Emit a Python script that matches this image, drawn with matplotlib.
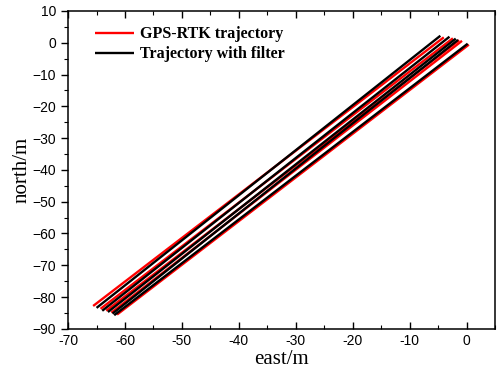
import matplotlib
matplotlib.use('Agg')
import matplotlib.pyplot as plt
from matplotlib.ticker import MultipleLocator

# lane end points (east, north), one entry per pass
gps_top_east = [-4.0, -2.4, -1.3, -0.8, 0.4]
gps_top_north = [1.7, 1.4, 0.8, 0.6, -0.6]
gps_bot_east = [-65.6, -64.3, -63.3, -62.4, -61.4]
gps_bot_north = [-82.8, -83.7, -84.3, -84.9, -85.5]

flt_top_east = [-4.6, -3.0, -1.9, -1.5, 0.2]
flt_top_north = [2.2, 1.9, 1.3, 0.9, -0.3]
flt_bot_east = [-65.0, -64.0, -63.0, -62.2, -61.9]
flt_bot_north = [-83.4, -84.3, -84.7, -85.2, -85.7]

fig = plt.figure(figsize=(4.97, 3.78), dpi=100)
ax = fig.add_axes([0.137, 0.130, 0.859, 0.841])

for i in range(len(gps_top_east)):
    ax.plot([gps_bot_east[i], gps_top_east[i]], [gps_bot_north[i], gps_top_north[i]],
            color='#ff0000', lw=1.7, solid_capstyle='butt',
            label='GPS-RTK trajectory' if i == 0 else None)
for i in range(len(flt_top_east)):
    ax.plot([flt_bot_east[i], flt_top_east[i]], [flt_bot_north[i], flt_top_north[i]],
            color='black', lw=1.7, solid_capstyle='butt',
            label='Trajectory with filter' if i == 0 else None)

ax.set_xlim(-70, 5)
ax.set_ylim(-90, 10)
ax.xaxis.set_major_locator(MultipleLocator(10))
ax.xaxis.set_minor_locator(MultipleLocator(5))
ax.yaxis.set_major_locator(MultipleLocator(10))
ax.yaxis.set_minor_locator(MultipleLocator(5))
ax.xaxis.set_major_formatter(matplotlib.ticker.FuncFormatter(lambda v, p: '%d' % v))

ax.tick_params(axis='x', which='both', direction='in', top=True, bottom=True)
ax.tick_params(axis='x', which='major', length=5, width=1)
ax.tick_params(axis='x', which='minor', length=3, width=0.8)
ax.tick_params(axis='y', which='both', direction='out', right=False)
ax.tick_params(axis='y', which='major', length=5, width=1)
ax.tick_params(axis='y', which='minor', length=3, width=0.8)
for lbl in ax.get_xticklabels() + ax.get_yticklabels():
    lbl.set_fontfamily('Liberation Sans')
    lbl.set_fontsize(10)
for s in ax.spines.values():
    s.set_linewidth(1.1)

ax.set_xlabel('east/m', fontfamily='Liberation Serif', fontsize=15, labelpad=2)
ax.set_ylabel('north/m', fontfamily='Liberation Serif', fontsize=15, labelpad=1)

ax.legend(loc='upper left', bbox_to_anchor=(0.03, 0.997), frameon=False,
          handlelength=2.4, handletextpad=0.4, labelspacing=0.25,
          prop={'family': 'Liberation Serif', 'weight': 'bold', 'size': 11.5})

fig.savefig('out.png', dpi=100)
